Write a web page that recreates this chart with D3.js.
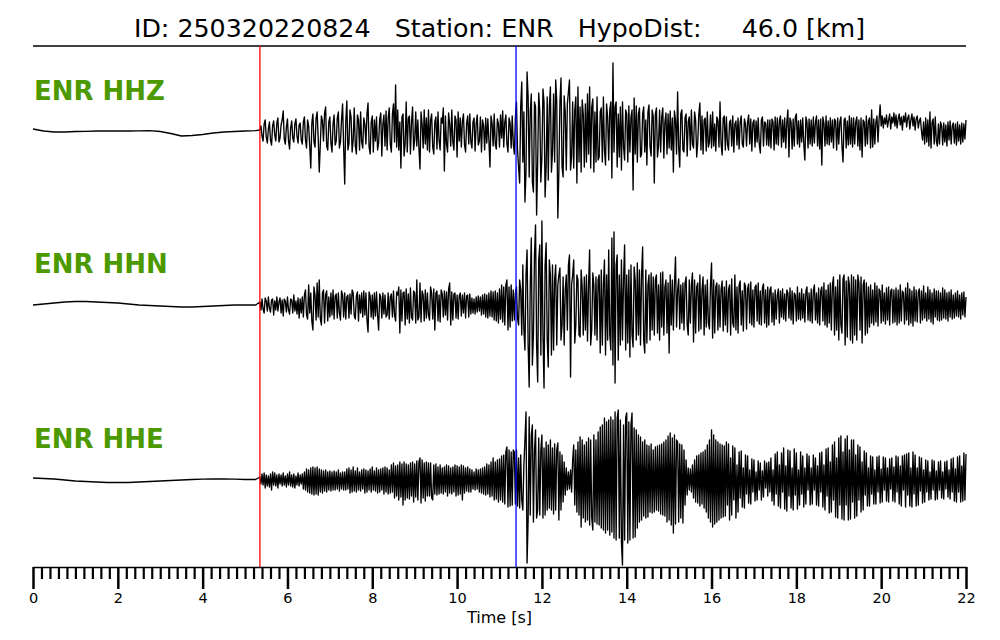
<!DOCTYPE html>
<html>
<head>
<meta charset="utf-8">
<script src="https://cdn.jsdelivr.net/npm/d3@7"></script>
<style>
  html, body { margin: 0; padding: 0; background: #fff; }
  svg { display: block; }
  text { font-family: "DejaVu Sans", sans-serif; }
</style>
</head>
<body>
<svg id="chart" width="1000" height="640"></svg>
<script>
// ---------------- data ----------------
const titleText = "ID: 250320220824   Station: ENR   HypoDist:     46.0 [km]";
const channels = ["ENR HHZ", "ENR HHN", "ENR HHE"];
const pickP = 5.35;   // red marker [s]
const pickS = 11.39;  // blue marker [s]
const timeTicks = [0, 2, 4, 6, 8, 10, 12, 14, 16, 18, 20, 22];
const preStart = 0, preStep = 0.25;      // pre-event samples
const sigStart = 5.35, sigStep = 0.025;  // signal samples

// pre-event drift (relative amplitude units)
const hhzPre = [3,1,0,0,0.5,0.7,1,1,1,1,1.2,1.3,0.5,-1.5,-4,-3.5,-2.5,-1,0,0.5,1,1.3];
const hhnPre = [0,1,2,3,3.5,3.5,3,2.5,2,1,0,-0.5,-1,-1.5,-2,-2,-1.5,-1,-0.5,0,0,0];
const hhePre = [2,1.5,1,0,-1,-1.5,-2,-2.5,-2.5,-2.5,-2,-1.5,-1,-0.5,0,0.5,0.8,1,1,0.8,0.5,0.5];

// signal samples, one row per second (relative amplitude units, positive = up)
const hhzSig = [
  2,6,-4,-9,8,12,-5,-11,3,10, -8,-13,6,11,-3,-9,9,14,-10,-6, 7,12,21,-7,-12,5,13,-9,-17,4, 11,-6,-10,8,13,-4,-11,7,9,-8,
  -12,10,15,-8,-16,12,6,-14,-36,9, 18,-10,-15,14,20,-6,-40,-12,16,11, -9,19,25,-14,-18,10,15,-11,-20,8, 17,-13,-9,14,20,-16,-10,12,28,-15,
  -52,10,31,-18,-12,22,15,-20,-8,24, -14,-22,17,12,-18,20,-10,-16,14,8, -12,18,29,-15,-22,10,16,-20,12,-9, 15,-18,-11,13,19,-24,8,17,-14,21,
  -18,14,24,-12,-20,18,28,-10,47,-15, 22,-18,10,-36,15,18,-24,-12,30,-20, 14,16,-22,10,25,-18,-8,20,-14,12, -16,-37,20,8,-16,22,-12,14,-18,22,
  -20,12,18,-15,-22,10,15,-17,20,-8, -18,14,9,24,-39,16,-12,-20,19,8, -14,22,-10,-18,16,12,-25,20,-9,14, -15,11,18,-13,-20,9,16,-12,18,-10,
  -16,10,14,-19,8,17,-13,-9,15,-20, 12,6,-18,14,-11,13,-8,-35,16,9, -14,18,-12,-17,13,8,-15,17,-6,21, -15,10,17,-12,-20,14,9,-16,16,-12,
  -22,15,30,-18,-35,-51,25,50,-30,20, -70,-40,60,35,-45,20,38,-50,-60,30, 25,-83,-30,39,20,-50,-25,43,30,-65, -35,35,-48,25,45,-40,-20,38,-30,52,
  30,-86,-40,30,54,-35,-45,36,20,-38, 28,40,52,-38,-25,30,-36,22,35,-51, 45,-30,25,-40,32,18,-35,28,-30,38, -22,45,-36,25,33,-40,20,-30,35,-28,
  -25,20,24,-30,35,-18,-33,28,15,-28, 22,30,-46,69,-20,25,30,-35,18,-25, 25,-38,30,-15,-28,22,18,-30,26,-20, 15,22,-58,34,-22,26,-30,18,24,-25,
  -22,18,25,-20,12,-33,20,27,-15,-24, 22,16,-51,18,24,-25,-14,22,-20,15, 24,-26,10,19,-22,18,-16,21,-18,14, -40,21,12,-22,40,-15,-35,18,22,-18,
  -20,14,18,-24,10,15,-18,22,-12,-16, 20,12,-25,-10,18,29,-18,16,-22,12, 14,-19,20,-15,-10,17,-16,20,-14,8, -19,15,12,-15,30,-12,-23,14,16,-18,
  15,-12,-18,10,12,-14,16,-20,8,11, -13,14,-17,10,16,-12,-15,13,8,-14, 10,17,-12,13,-19,9,12,-15,11,-10, 14,-12,-21,12,15,-14,10,9,-13,12,
  -14,12,-16,13,10,-18,15,-12,14,-13, 11,16,-15,12,-10,14,-16,10,22,-25, 14,10,-17,13,-14,15,18,-12,11,-15, 12,-10,14,-12,-28,15,10,-16,13,-12,
  12,-14,15,-11,10,16,-14,12,-17,13, -33,15,9,-14,16,-12,11,-13,14,-10, 12,-16,13,11,-18,14,-12,10,15,-14, -30,12,14,-16,11,-13,16,-12,14,-15,
  14,-12,10,15,-14,12,-18,14,-25,12, 10,-14,16,-12,11,14,-16,22,-15,13, -12,10,16,-10,12,27,6,16,4,14, 8,17,5,12,18,3,15,9,19,6,
  17,4,13,18,7,15,2,16,10,19, 5,14,17,3,12,18,6,15,2,13, 16,4,11,14,1,-8,10,-12,14,-10, 12,-14,20,-16,10,13,-12,15,-9,-14,
  8,-12,10,6,-13,9,-10,7,-14,10, -8,11,-12,6,9,-11,8,-13,10,-9, 7,-12,9,-10,8,-7,12
];
const hhnSig = [
  3,-5,6,-4,-8,7,4,-6,8,-3, -7,5,6,-10,4,-5,8,-6,3,7, -8,5,-11,6,4,-7,8,-5,-9,6, 5,-8,10,-6,4,-9,7,-13,6,-8,
  8,-12,10,15,-10,-14,20,-8,12,-16, -25,18,10,-15,22,-12,25,-14,-20,12, 15,-18,10,14,-16,8,-12,12,-10,15, -14,9,11,-13,12,-8,-15,14,10,-12,
  12,-14,8,10,-13,11,-9,15,12,-11, -14,9,13,-16,10,-8,12,-12,14,-10, 12,-15,-27,13,9,-12,10,-14,12,-11, 13,-10,-25,11,8,-13,12,-9,10,-12,
  -10,12,-14,8,11,-12,14,-10,-16,13, 10,18,-28,15,-16,12,13,-20,16,-14, 11,-18,17,-12,-15,14,12,-18,25,-15, -12,22,-17,14,10,-16,15,-13,12,-10,
  -15,18,12,-14,16,-25,12,14,-16,10, -17,15,11,-12,14,-10,13,-15,16,22, -20,13,-15,11,12,-13,10,-14,9,12, -11,10,-8,12,-13,9,10,-12,11,-9,
  7,-8,6,-9,8,-7,9,-6,8,-10, 10,-9,11,-12,10,-13,12,-11,14,-12, 13,-15,14,-16,12,-18,16,-14,20,-17, 18,-20,20,25,-25,18,-22,20,-16,15,
  -15,12,18,-14,-20,25,15,-30,40,-25, -45,30,55,-40,-82,20,67,-60,-30,50, 80,-40,-77,45,60,-50,84,-30,-83,40, 62,-35,-62,45,30,-50,40,-45,25,40,
  -40,20,30,37,-35,-20,28,-40,15,30, -25,40,50,-72,20,30,45,-38,-20,30, 25,-30,-32,35,18,-30,28,-25,30,-36, 20,55,-40,-25,32,20,-30,28,-35,25,
  30,-48,35,-40,20,45,-50,30,-35,55, -30,-45,67,-60,73,-78,40,50,-55,30, -40,45,-35,25,60,-45,30,-38,35,-52, 40,-30,-42,38,25,-35,42,-30,35,-40,
  30,58,-35,-48,35,-38,20,30,-35,32, -25,28,-30,25,30,-28,20,-35,32,-22, 33,-30,18,25,-28,22,-48,30,-20,25, -25,20,48,-22,15,26,-24,20,-18,22,
  -25,22,28,-20,-30,25,-18,20,32,-37, 25,-28,18,22,-26,30,-24,15,28,-30, 20,-22,25,-18,-24,20,42,-33,25,-28, 18,22,-25,20,-22,16,24,-26,18,-20,
  24,-27,15,20,-30,26,-18,-22,30,-25, 18,-28,20,24,-20,14,-26,22,19,-24, 16,21,-18,23,-20,15,-22,18,20,-16, 22,-19,14,-20,17,21,-18,15,-22,18,
  -20,15,18,-17,12,-20,15,-14,10,16, -18,14,-12,16,-14,11,-16,15,12,-13, 17,-15,14,-19,12,10,-16,18,-14,12, -15,16,-13,11,-17,14,18,-15,12,-16,
  16,-18,14,20,-15,12,-18,17,-20,14, 18,-16,22,-20,15,-22,20,-18,22,-25, 20,28,-30,18,-25,25,-35,30,-20,-28, 26,30,-40,24,-32,28,20,-35,30,-38,
  28,-30,25,-35,30,22,-25,28,-38,20, 25,-30,22,-28,18,-22,20,-18,15,-20, 22,-17,19,-21,16,14,-18,20,-16,12, -19,17,-15,18,-20,14,16,-18,15,-17,
  17,-20,15,-18,20,-16,14,12,-19,17, -15,22,-20,16,-18,14,-21,18,-16,15, -17,13,16,-18,14,-15,19,-13,12,-16, 18,-14,15,-17,12,-19,16,-12,14,-15,
  14,-16,12,-15,17,-13,15,-14,12,-16, 13,-12,15,-14,10,-13,12,-11,14,-12, 10,-14,12,-10,13,-12,8
];
const hheSig = [
  3,-4,6,-5,7,-8,5,-6,4,-7, 6,-10,8,-5,7,-6,5,-8,6,-4, 5,-6,7,-5,4,-7,6,-5,8,-6, 5,-7,6,-8,4,-5,7,-6,5,-4,
  6,-9,8,-10,11,-12,10,-13,12,-14, 13,-15,12,-14,13,-15,11,-12,10,-13, 9,-11,10,-12,8,-10,9,-11,8,-10, 9,-10,8,-9,10,-11,7,-9,8,-10,
  8,-10,11,-9,12,-13,10,-12,13,-11, 9,-12,12,-10,8,-11,10,-9,11,-13, 10,-12,9,-10,11,-12,13,-10,9,-11, 12,-13,10,-12,11,-10,12,-14,13,-12,
  12,-14,10,-13,15,-12,17,-18,14,-16, 15,-20,18,-17,16,-25,18,-20,16,-18, 15,-19,17,-16,18,-22,16,-17,19,-20, 18,22,-23,20,-18,17,-21,18,-16,17,
  -16,17,-18,-20,15,-14,16,-15,13,-14, 15,-13,12,-14,13,-12,15,-16,14,-13, 12,-14,13,-12,15,-16,14,-15,13,-14, 15,-20,14,-13,12,-11,13,-12,11,-12,
  10,-9,8,-10,11,-9,10,-12,11,-13, 12,-14,13,-15,16,-14,15,-17,18,-16, 22,-20,18,-19,20,-22,21,-20,24,-22, 25,-24,28,33,-27,30,-26,28,-25,30,
  28,-24,30,-26,22,-28,25,-20,-30,15, 40,68,-83,-40,63,-35,45,55,-42,30, 50,-38,-30,42,-35,30,45,-38,32,-35, 38,-30,35,-28,40,-30,32,-34,36,-30,
  30,37,-40,28,-30,25,-22,18,-15,12, -10,8,-9,10,-12,20,35,-25,30,-32, 38,-35,43,-47,40,-38,35,-42,38,-40, 42,-45,40,-38,-50,45,-42,40,-44,48,
  -45,53,-48,55,-50,62,-53,58,-50,60, -55,63,-52,60,-58,68,-60,62,70,-58, 60,-62,-85,55,-60,62,67,-63,58,-60, 55,67,-58,52,-57,50,-48,45,-42,43,
  -40,38,-36,40,-38,35,-37,34,-32,36, -33,30,-32,33,-30,34,-31,35,-34,36, -35,38,-36,40,-42,44,-40,47,-45,42, -53,45,-44,40,38,-42,36,-38,35,-43,
  30,-25,20,-15,12,-10,11,-12,15,-18, 20,-22,24,-23,25,-26,27,-24,28,-28, 30,-32,35,-38,40,-42,50,-47,45,-44, 40,-42,38,-40,36,-38,35,-37,34,-36,
  38,-25,36,-40,22,-35,34,-20,32,-38, 15,-32,28,-18,29,-27,12,-28,25,-14, 24,-23,10,-24,21,-12,20,-21,8,-20, 19,-10,17,-20,9,-17,19,-8,17,-16,
  18,-12,22,-21,10,-25,26,-14,28,-26, 15,-28,27,-12,32,-29,14,-31,30,-16, 29,-28,12,-30,31,-15,27,-29,10,-25, 28,-14,24,-27,12,-24,26,-10,24,-25,
  12,-24,25,-10,22,-25,14,-26,27,-12, 28,-27,15,-30,31,-16,32,-33,18,-32, 35,-20,38,-37,22,-38,42,-25,44,-39, 28,-40,41,-25,44,-40,30,-39,40,-22,
  40,-38,25,-36,35,-20,33,-32,18,-30, 29,-15,27,-26,12,-26,24,-14,23,-24, 10,-24,23,-12,24,-23,11,-22,23,-10, 22,-21,12,-22,21,-9,22,-21,13,-22,
  24,-12,23,-24,14,-26,24,-10,25,-27, 26,-15,27,-26,12,-27,28,-14,25,-26, 12,-25,23,-11,22,-23,10,-22,20,-12, 19,-20,8,-19,20,-10,19,-20,9,-19,
  18,-10,19,-18,8,-19,18,-9,19,-17, 10,-19,21,-12,22,-21,11,-22,23,-12, 24,-22,14,-21,27,-20,26
];

// ---------------- drawing ----------------
const svg = d3.select("#chart");
const left = 33, right = 966;
const axisY = 567, topLineY = 46;
const traceCenters = [132, 305, 480];
const traces = [
  {name: channels[0], pre: hhzPre, sig: hhzSig},
  {name: channels[1], pre: hhnPre, sig: hhnSig},
  {name: channels[2], pre: hhePre, sig: hheSig}
];

const x = d3.scaleLinear().domain([0, 22]).range([left, right]);

// title
svg.append("text")
  .attr("x", (left + right) / 2)
  .attr("y", 37)
  .attr("text-anchor", "middle")
  .attr("font-size", 25.3)
  .attr("fill", "#000")
  .style("white-space", "pre")
  .attr("xml:space", "preserve")
  .text(titleText);

svg.append("line")
  .attr("x1", left).attr("x2", right)
  .attr("y1", topLineY).attr("y2", topLineY)
  .attr("stroke", "#000").attr("stroke-width", 1.3);

// traces
const line = d3.line().x(d => x(d.t)).y(d => d.y);
traces.forEach((tr, k) => {
  const c = traceCenters[k];
  const y = d3.scaleLinear().domain([-100, 100]).range([c + 100, c - 100]);
  const pts = [];
  tr.pre.forEach((v, i) => pts.push({t: preStart + i * preStep, y: y(v)}));
  tr.sig.forEach((v, i) => pts.push({t: sigStart + i * sigStep, y: y(v)}));
  svg.append("path")
    .attr("d", line(pts.filter(p => p.t <= 22.0001)))
    .attr("fill", "none")
    .attr("stroke", "#000")
    .attr("stroke-width", 1.35)
    .attr("stroke-linejoin", "round");

  svg.append("text")
    .attr("x", left + 1)
    .attr("y", c - 32)
    .attr("font-size", 26)
    .attr("font-weight", "bold")
    .attr("fill", "#4d9900")
    .text(tr.name);
});

// picks
[[pickP, "#ff0000"], [pickS, "#0000ff"]].forEach(([t, col]) => {
  svg.append("line")
    .attr("x1", x(t)).attr("x2", x(t))
    .attr("y1", topLineY).attr("y2", axisY)
    .attr("stroke", col).attr("stroke-width", 1.3);
});

// axis
const minorTicks = d3.range(0, 111).map(i => i * 0.2).filter(v => Math.abs(v / 2 - Math.round(v / 2)) > 1e-6);
const minorAxis = d3.axisBottom(x).tickValues(minorTicks).tickSize(12).tickSizeOuter(0).tickFormat("");
const majorAxis = d3.axisBottom(x).tickValues(timeTicks).tickSize(22).tickSizeOuter(0).tickPadding(4).tickFormat(d3.format("d"));

const gMinor = svg.append("g").attr("transform", `translate(0,${axisY})`).call(minorAxis);
gMinor.select(".domain").remove();
gMinor.selectAll(".tick line").attr("stroke", "#000").attr("stroke-width", 2.2);

const gMajor = svg.append("g").attr("transform", `translate(0,${axisY})`).call(majorAxis);
gMajor.select(".domain").attr("stroke", "#000").attr("stroke-width", 1.6);
gMajor.selectAll(".tick line").attr("stroke", "#000").attr("stroke-width", 2.5);
gMajor.selectAll(".tick text")
  .attr("font-family", "DejaVu Sans, sans-serif")
  .attr("font-size", 14.5)
  .attr("fill", "#000");

svg.append("text")
  .attr("x", (left + right) / 2)
  .attr("y", 623)
  .attr("text-anchor", "middle")
  .attr("font-size", 16)
  .attr("fill", "#000")
  .text("Time [s]");
</script>
</body>
</html>
